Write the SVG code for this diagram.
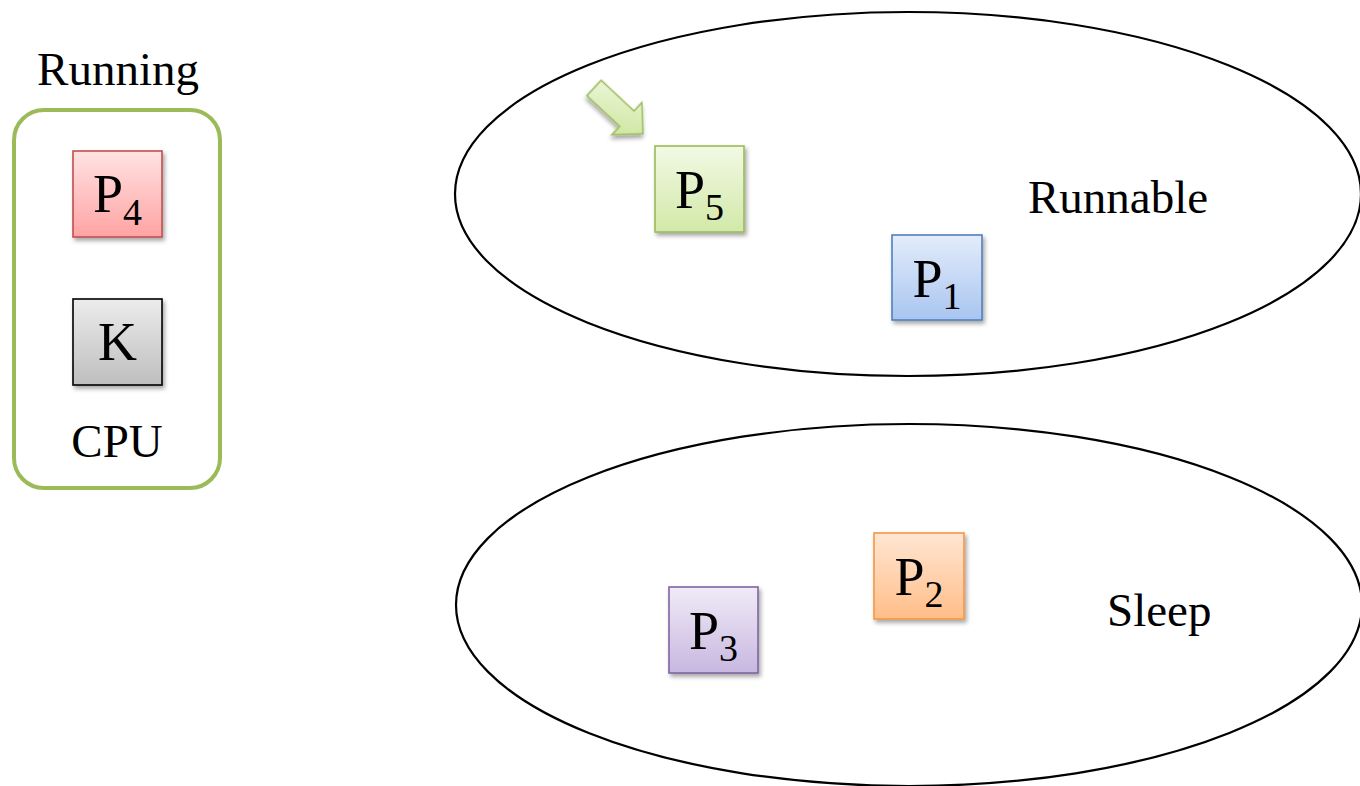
<svg xmlns="http://www.w3.org/2000/svg" width="1360" height="786" viewBox="0 0 1360 786">
<style>
.lbl{font-family:"Liberation Serif","Times New Roman",serif;font-size:47px;fill:#000}
.pt{font-family:"Liberation Serif","Times New Roman",serif;font-size:54px;fill:#000;text-anchor:middle}
.sub{font-size:38px}
.ell{fill:none;stroke:#000;stroke-width:2.2}
.box{stroke-width:1.6}
</style>
<defs>
<filter id="sh" x="-20%" y="-20%" width="150%" height="150%">
<feDropShadow dx="2" dy="3" stdDeviation="2" flood-color="#000" flood-opacity="0.35"/>
</filter>
<linearGradient id="gRed" x1="0" y1="0" x2="0" y2="1"><stop offset="0" stop-color="#FFE3E3"/><stop offset="1" stop-color="#FFA3A3"/></linearGradient>
<linearGradient id="gGray" x1="0" y1="0" x2="0" y2="1"><stop offset="0" stop-color="#ECECEC"/><stop offset="1" stop-color="#BEBEBE"/></linearGradient>
<linearGradient id="gGreen" x1="0" y1="0" x2="0" y2="1"><stop offset="0" stop-color="#F2F9E4"/><stop offset="1" stop-color="#D2E9A8"/></linearGradient>
<linearGradient id="gBlue" x1="0" y1="0" x2="0" y2="1"><stop offset="0" stop-color="#E3ECFA"/><stop offset="1" stop-color="#A9C5F0"/></linearGradient>
<linearGradient id="gPurple" x1="0" y1="0" x2="0" y2="1"><stop offset="0" stop-color="#F0EBF7"/><stop offset="1" stop-color="#C8B7E0"/></linearGradient>
<linearGradient id="gOrange" x1="0" y1="0" x2="0" y2="1"><stop offset="0" stop-color="#FFE6D3"/><stop offset="1" stop-color="#FFBE88"/></linearGradient>
<linearGradient id="gArrow" x1="0" y1="0" x2="1" y2="1"><stop offset="0" stop-color="#F0F8E0"/><stop offset="1" stop-color="#C8E394"/></linearGradient>
</defs>

<g id="running-label"><text class="lbl" x="118" y="85" text-anchor="middle">Running</text></g>

<g id="cpu">
<rect x="14" y="110" width="206" height="378" rx="30" ry="30" fill="#fff" stroke="#9BBB59" stroke-width="4"/>
<text class="lbl" x="117" y="457" text-anchor="middle">CPU</text>
</g>

<g id="p4">
<rect class="box" x="73" y="151" width="89" height="86" fill="url(#gRed)" stroke="#C0504D" filter="url(#sh)"/>
<text class="pt" x="117.5" y="212">P<tspan class="sub" dy="13">4</tspan></text>
</g>

<g id="k">
<rect class="box" x="73" y="299" width="89" height="86" fill="url(#gGray)" stroke="#000" filter="url(#sh)"/>
<text class="pt" x="117.5" y="360">K</text>
</g>

<g id="runnable">
<ellipse class="ell" cx="908" cy="194" rx="453" ry="182"/>
<text class="lbl" x="1028" y="213">Runnable</text>
</g>

<g id="sleep">
<ellipse class="ell" cx="909" cy="605" rx="453" ry="181"/>
<text class="lbl" x="1107" y="626">Sleep</text>
</g>

<g id="p5">
<rect class="box" x="655" y="146" width="89" height="86" fill="url(#gGreen)" stroke="#9BBB59" filter="url(#sh)"/>
<text class="pt" x="699.5" y="208">P<tspan class="sub" dy="12">5</tspan></text>
</g>

<g id="p1">
<rect class="box" x="892" y="235" width="90" height="85" fill="url(#gBlue)" stroke="#4F81BD" filter="url(#sh)"/>
<text class="pt" x="937" y="297">P<tspan class="sub" dy="12">1</tspan></text>
</g>

<g id="p3">
<rect class="box" x="669" y="587" width="89" height="86" fill="url(#gPurple)" stroke="#8064A2" filter="url(#sh)"/>
<text class="pt" x="713.5" y="649">P<tspan class="sub" dy="12">3</tspan></text>
</g>

<g id="p2">
<rect class="box" x="874" y="533" width="90" height="86" fill="url(#gOrange)" stroke="#F79646" filter="url(#sh)"/>
<text class="pt" x="919" y="595">P<tspan class="sub" dy="12">2</tspan></text>
</g>

<g id="connectors">
<polygon points="0,-10.5 45,-10.5 45,-22 67,0 45,22 45,10.5 0,10.5" transform="translate(594,88) rotate(43)" fill="url(#gArrow)" stroke="#9BBB59" stroke-width="1.5" filter="url(#sh)"/>
</g>
</svg>
